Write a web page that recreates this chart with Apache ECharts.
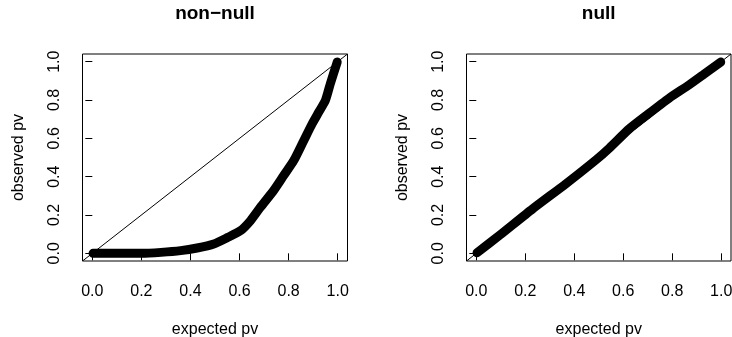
<!DOCTYPE html>
<html><head><meta charset="utf-8">
<script src="https://cdn.jsdelivr.net/npm/echarts@6/dist/echarts.min.js"></script>
<style>html,body{margin:0;padding:0;background:#fff}#c{width:732px;height:337px}</style>
</head><body><div id="c"></div>
<script>
// ---- data ----
const tickValues = [0, 0.2, 0.4, 0.6, 0.8, 1.0];
const panelTitles = ['non\u2212null', 'null'];
const xAxisName = 'expected pv';
const yAxisName = 'observed pv';
const axisRange = [-0.04, 1.04];
const diagonalLine = [-0.04, 1.04];

const nonNullExpected = [0.003, 0.1, 0.2, 0.28, 0.36, 0.427, 0.495, 0.55, 0.604, 0.645, 0.685, 0.739, 0.78, 0.821, 0.862, 0.896, 0.923, 0.95, 0.97, 0.998];
const nonNullObserved = [0.0, 0.0, 0.0, 0.005, 0.014, 0.028, 0.049, 0.082, 0.118, 0.171, 0.24, 0.328, 0.406, 0.484, 0.589, 0.676, 0.737, 0.798, 0.885, 0.998];

const nullExpected = [0.003, 0.095, 0.23, 0.365, 0.49, 0.544, 0.625, 0.7, 0.788, 0.869, 0.93, 0.998];
const nullObserved = [0.003, 0.094, 0.232, 0.362, 0.489, 0.55, 0.65, 0.725, 0.81, 0.879, 0.935, 0.998];

// ---- chart ----
const FONT = '"Liberation Sans", Arial, Helvetica, sans-serif';
const zip = (a, b) => a.map((v, i) => [v, b[i]]);

const grids = [
  {left: 82.5, top: 54, width: 265, height: 207},
  {left: 466.5, top: 54, width: 264.5, height: 207}
];

function xAxisFor(i) {
  return {
    type: 'value', gridIndex: i, min: axisRange[0], max: axisRange[1],
    name: xAxisName, nameLocation: 'middle', nameGap: 61,
    nameTextStyle: {fontFamily: FONT, fontSize: 16, color: '#000'},
    axisLine: {show: false},
    axisTick: {show: true, inside: false, length: 7, lineStyle: {color: '#000', width: 1}, customValues: tickValues},
    axisLabel: {show: true, customValues: tickValues, formatter: v => v.toFixed(1), margin: 23,
      fontFamily: FONT, fontSize: 16, color: '#000'},
    splitLine: {show: false}
  };
}
function yAxisFor(i) {
  return {
    type: 'value', gridIndex: i, min: axisRange[0], max: axisRange[1],
    name: yAxisName, nameLocation: 'middle', nameGap: 56,
    nameTextStyle: {fontFamily: FONT, fontSize: 16, color: '#000'},
    axisLine: {show: false},
    axisTick: {show: true, inside: false, length: 7, lineStyle: {color: '#000', width: 1}, customValues: tickValues},
    axisLabel: {show: true, customValues: tickValues, formatter: v => v.toFixed(1), margin: 20, rotate: 90,
      fontFamily: FONT, fontSize: 16, color: '#000'},
    splitLine: {show: false}
  };
}

const chart = echarts.init(document.getElementById('c'), null, {renderer: 'canvas'});
chart.setOption({
  animation: false,
  backgroundColor: '#fff',
  title: panelTitles.map((t, i) => ({
    text: t, left: grids[i].left + grids[i].width / 2, top: 4, textAlign: 'center', padding: 0,
    textStyle: {fontFamily: FONT, fontSize: 19, fontWeight: 'bold', color: '#000'}
  })),
  grid: grids.map(g => Object.assign({show: true, borderColor: '#000', borderWidth: 1, backgroundColor: 'transparent', outerBoundsMode: 'none'}, g)),
  xAxis: [xAxisFor(0), xAxisFor(1)],
  yAxis: [yAxisFor(0), yAxisFor(1)],
  series: [
    {type: 'line', xAxisIndex: 0, yAxisIndex: 0, data: diagonalLine.map(v => [v, v]), symbol: 'none', silent: true,
      lineStyle: {color: '#000', width: 1}, clip: true},
    {type: 'line', xAxisIndex: 0, yAxisIndex: 0, data: zip(nonNullExpected, nonNullObserved), symbol: 'none',
      smooth: 0.2,
      lineStyle: {color: '#000', width: 9, cap: 'round', join: 'round'}, clip: true},
    {type: 'line', xAxisIndex: 1, yAxisIndex: 1, data: diagonalLine.map(v => [v, v]), symbol: 'none', silent: true,
      lineStyle: {color: '#000', width: 1}, clip: true},
    {type: 'line', xAxisIndex: 1, yAxisIndex: 1, data: zip(nullExpected, nullObserved), symbol: 'none',
      smooth: 0.2,
      lineStyle: {color: '#000', width: 9, cap: 'round', join: 'round'}, clip: true}
  ]
});
</script>
</body></html>
